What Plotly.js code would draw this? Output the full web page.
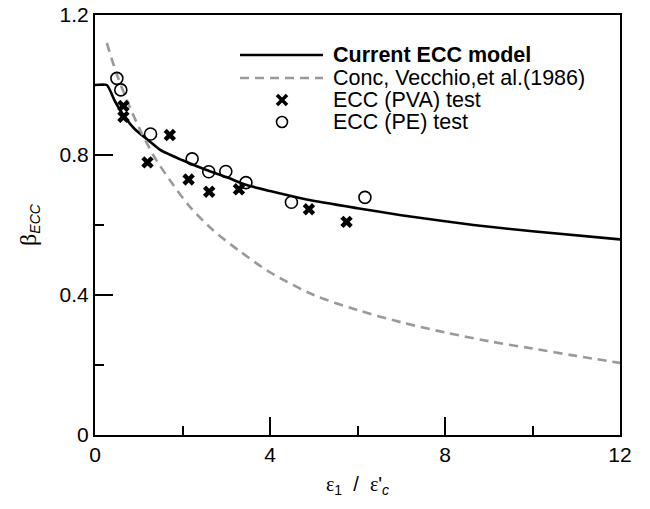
<!DOCTYPE html>
<html>
<head>
<meta charset="utf-8">
<script src="https://cdn.plot.ly/plotly-3.0.1.min.js"></script>
<style>
  html, body { margin: 0; padding: 0; background: #fff; }
  #chart { width: 650px; height: 509px; }
</style>
</head>
<body>
<div id="chart"></div>
<script>
// Current ECC model curve
const modelX = [0, 0.27, 0.45, 0.65, 0.9, 1.26, 1.5, 2.0, 2.55, 3.0, 3.47, 4.0, 4.84, 6.0, 7.0, 8.65, 10.0, 12.0];
const modelY = [1.0, 1.0, 0.955, 0.914, 0.875, 0.838, 0.814, 0.785, 0.757, 0.737, 0.714, 0.697, 0.673, 0.648, 0.628, 0.600, 0.582, 0.559];

// Vecchio & Collins (1986) concrete curve
const concX = [0.27, 0.5, 0.75, 1.0, 1.33, 1.7, 2.17, 2.7, 3.31, 4.0, 5.0, 6.0, 7.0, 8.0, 9.0, 10.0, 11.0, 12.0];
const concY = [1.12, 1.03, 0.95, 0.88, 0.80, 0.73, 0.652, 0.585, 0.525, 0.465, 0.40, 0.357, 0.322, 0.293, 0.268, 0.247, 0.226, 0.206];

// ECC (PVA) test points
const pvaX = [0.65, 0.65, 1.20, 1.71, 2.14, 2.61, 3.29, 4.89, 5.75];
const pvaY = [0.940, 0.909, 0.779, 0.857, 0.730, 0.695, 0.702, 0.645, 0.609];

// ECC (PE) test points
const peX = [0.50, 0.59, 1.27, 2.22, 2.60, 2.99, 3.45, 4.49, 6.17];
const peY = [1.019, 0.986, 0.860, 0.789, 0.752, 0.753, 0.721, 0.665, 0.679];

// Legend labels
const legendNames = ["<b>Current ECC model</b>", "Conc, Vecchio,et al.(1986)", "ECC (PVA) test", "ECC (PE) test"];

const FONT = "Liberation Sans, Arial, sans-serif";

const traces = [
  { x: modelX, y: modelY, mode: "lines", name: legendNames[0], line: { color: "#000", width: 2.6, shape: "spline", smoothing: 0.6 }, showlegend: false },
  { x: concX, y: concY, mode: "lines", name: legendNames[1], line: { color: "#9a9a9a", width: 2.6, dash: "9px,6px", shape: "spline", smoothing: 0.8 }, showlegend: false },
  { x: pvaX, y: pvaY, mode: "markers", name: legendNames[2], marker: { symbol: "x", size: 11, color: "#000", line: { width: 0 } }, showlegend: false },
  { x: peX, y: peY, mode: "markers", name: legendNames[3], marker: { symbol: "circle-open", size: 12, color: "#000", line: { width: 1.6, color: "#000" } }, showlegend: false }
];

// custom legend layout (paper coordinates)
const legLineX0 = 0.2762, legLineX1 = 0.4343, legMarkX = 0.3562, legTextX = 0.4495;
const legRows = [0.9048, 0.8500, 0.7976, 0.7452];

const shapes = [
  { type: "line", xref: "paper", yref: "paper", x0: legLineX0, x1: legLineX1, y0: legRows[0], y1: legRows[0], line: { color: "#000", width: 2.6 } },
  { type: "line", xref: "paper", yref: "paper", x0: legLineX0, x1: legLineX1, y0: legRows[1], y1: legRows[1], line: { color: "#9a9a9a", width: 2.6, dash: "9px,6px" } },
  { type: "path", xref: "paper", yref: "paper", xsizemode: "pixel", ysizemode: "pixel", xanchor: legMarkX, yanchor: legRows[2],
    path: "M-5,-5L5,5M-5,5L5,-5", line: { color: "#000", width: 3.5 } },
  { type: "circle", xref: "paper", yref: "paper", xsizemode: "pixel", ysizemode: "pixel", xanchor: legMarkX, yanchor: legRows[3],
    x0: -5.5, x1: 5.5, y0: -5.5, y1: 5.5, line: { color: "#000", width: 1.6 } }
];

const annotations = legendNames.map((t, i) => ({
  xref: "paper", yref: "paper", x: legTextX, y: legRows[i], xanchor: "left", yanchor: "middle",
  text: t, showarrow: false, font: { family: FONT, size: 21.5, color: "#000" }
}));

const layout = {
  width: 650, height: 509,
  margin: { l: 95, r: 30, t: 15, b: 74 },
  font: { family: FONT, size: 21, color: "#000" },
  showlegend: false,
  xaxis: {
    range: [0, 12], tick0: 0, dtick: 4, ticks: "inside", ticklen: 18, tickwidth: 2, tickcolor: "#000", layer: "above traces",
    showline: true, linecolor: "#000", linewidth: 2, mirror: true, showgrid: false, zeroline: false,
    minor: { dtick: 2, ticks: "inside", ticklen: 9, tickwidth: 2, tickcolor: "#000", showgrid: false },
    title: { text: "<span style=\"font-family:Liberation Serif\">ε</span><sub>1</sub>  /  <span style=\"font-family:Liberation Serif\">ε</span>'<sub><i>c</i></sub>", font: { family: FONT, size: 20, color: "#000" }, standoff: 12 }
  },
  yaxis: {
    range: [0, 1.2], tick0: 0, dtick: 0.4, ticks: "inside", ticklen: 18, tickwidth: 2, tickcolor: "#000", layer: "above traces",
    showline: true, linecolor: "#000", linewidth: 2, mirror: true, showgrid: false, zeroline: false,
    minor: { dtick: 0.2, ticks: "inside", ticklen: 9, tickwidth: 2, tickcolor: "#000", showgrid: false },
    title: { text: "<span style=\"font-family:Liberation Serif;font-size:24px\">β</span><sub><i>ECC</i></sub>", font: { family: FONT, size: 20, color: "#000" }, standoff: 18 }
  },
  shapes: shapes,
  annotations: annotations
};

Plotly.newPlot("chart", traces, layout, { staticPlot: true, displayModeBar: false });
</script>
</body>
</html>
